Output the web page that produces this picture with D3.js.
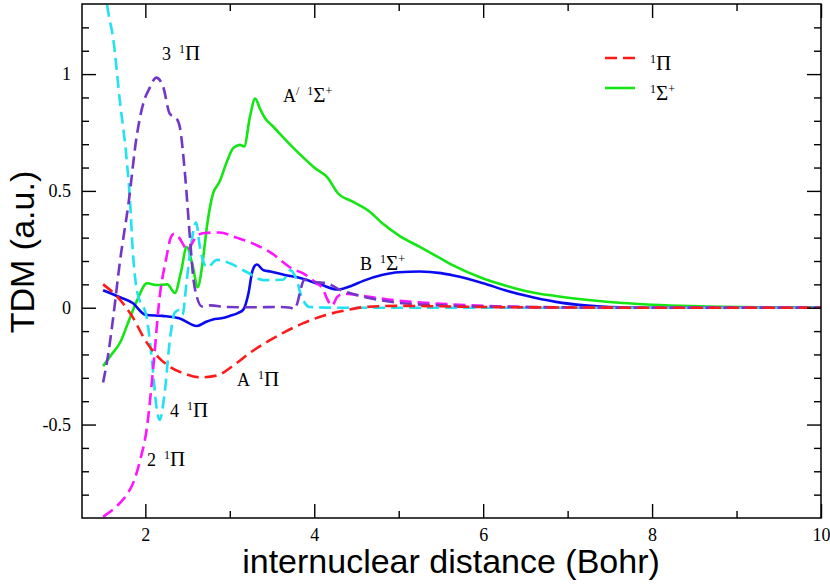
<!DOCTYPE html>
<html>
<head>
<meta charset="utf-8">
<script src="https://cdn.jsdelivr.net/npm/d3@7"></script>
<style>
  body { margin: 0; background: #fff; }
  svg { display: block; }
</style>
</head>
<body>
<svg id="graph" width="830" height="584"></svg>
<script>
// tick values
var xMajor = [2, 4, 6, 8, 10],
    xMinor = [3, 5, 7, 9],
    yMajor = [-0.5, 0, 0.5, 1],
    yMinor = [-0.8, -0.7, -0.6, -0.4, -0.3, -0.2, -0.1, 0.1, 0.2, 0.3, 0.4, 0.6, 0.7, 0.8, 0.9, 1.1, 1.2];

// [R (bohr), TDM (a.u.)]
var aPi = [[1.5,0.1],[1.66,0.05],[1.85,-0.04],[2.0,-0.14],[2.15,-0.21],[2.3,-0.255],[2.45,-0.28],[2.65,-0.298],
    [2.85,-0.29],[3.05,-0.245],[3.25,-0.19],[3.47,-0.14],[3.67,-0.1],[3.87,-0.066],[4.1,-0.035],[4.39,-0.01],
    [4.6,0.003],[5,0.008],[5.5,0.006],[6,0.003],[7,0.001],[8,0],[10,0]];

var aPrimeSig = [[1.5,-0.25],[1.6,-0.2],[1.7,-0.15],[1.8,-0.06],[1.9,0.03],[2.02,0.105],[2.14,0.097],[2.26,0.1],
    [2.35,0.063],[2.42,0.15],[2.49,0.26],[2.56,0.18],[2.62,0.088],[2.68,0.2],[2.73,0.35],[2.8,0.487],[2.88,0.54],
    [2.96,0.62],[3.04,0.683],[3.12,0.697],[3.17,0.69],[3.24,0.82],[3.3,0.895],[3.36,0.85],[3.42,0.81],[3.5,0.78],
    [3.75,0.685],[4.0,0.6],[4.16,0.556],[4.28,0.49],[4.45,0.455],[4.66,0.41],[4.81,0.36],[5.0,0.31],[5.25,0.26],
    [5.5,0.21],[5.65,0.18],[6.0,0.125],[6.26,0.095],[6.5,0.072],[6.86,0.05],[7.25,0.033],[7.65,0.02],[8.0,0.013],
    [8.46,0.007],[9.26,0.002],[10,0.001]];

var bSig = [[1.5,0.075],[1.7,0.045],[1.85,0.02],[2.0,-0.03],[2.2,-0.035],[2.4,-0.045],[2.61,-0.078],[2.72,-0.06],
    [2.8,-0.05],[2.9,-0.045],[3.0,-0.035],[3.1,-0.022],[3.16,-0.008],[3.22,0.06],[3.27,0.16],[3.32,0.185],[3.4,0.16],
    [3.48,0.155],[3.65,0.14],[3.8,0.13],[4.07,0.1],[4.28,0.078],[4.45,0.095],[4.58,0.115],[4.8,0.14],[5.0,0.152],
    [5.25,0.155],[5.5,0.148],[5.65,0.138],[6.0,0.105],[6.26,0.075],[6.5,0.052],[6.86,0.025],[7.2,0.01],[7.5,0.003],
    [8,0],[10,0]];

var pi3 = [[1.5,-0.32],[1.56,-0.2],[1.62,-0.04],[1.7,0.2],[1.8,0.445],[1.9,0.74],[1.98,0.88],[2.05,0.94],[2.13,0.985],
    [2.21,0.947],[2.29,0.83],[2.37,0.81],[2.41,0.77],[2.47,0.57],[2.53,0.29],[2.57,0.12],[2.61,0.047],[2.67,0.005],
    [2.77,0.01],[2.97,0.003],[3.3,0.002],[3.6,0.003],[3.72,0.0],[3.76,-0.005],[3.8,0.02],[3.84,0.08],[3.88,0.12],
    [4.0,0.11],[4.15,0.105],[4.27,0.083],[4.58,0.047],[4.98,0.022],[5.5,0.01],[6,0.005],[7,0.002],[8,0],[10,0]];

var pi2 = [[1.5,-0.895],[1.66,-0.85],[1.78,-0.8],[1.85,-0.755],[1.94,-0.65],[2.02,-0.51],[2.09,-0.27],[2.17,0.047],
    [2.25,0.216],[2.3,0.3],[2.34,0.317],[2.4,0.3],[2.45,0.27],[2.5,0.245],[2.56,0.28],[2.62,0.31],[2.7,0.32],
    [2.88,0.322],[3.08,0.3],[3.24,0.28],[3.48,0.237],[3.75,0.165],[3.87,0.147],[4.03,0.104],[4.1,0.083],[4.15,0.04],
    [4.21,0.008],[4.27,0.045],[4.35,0.06],[4.58,0.05],[5,0.03],[5.5,0.017],[6,0.008],[6.5,0.003],[7,0.001],[8,0],[10,0]];

var pi4 = [[1.5,1.45],[1.55,1.29],[1.62,1.15],[1.7,0.88],[1.78,0.63],[1.82,0.45],[1.85,0.25],[1.9,0.075],[2.02,-0.05],
    [2.09,-0.27],[2.13,-0.42],[2.17,-0.48],[2.23,-0.36],[2.29,-0.14],[2.35,-0.02],[2.4,-0.01],[2.44,-0.03],[2.49,0.117],
    [2.55,0.29],[2.6,0.365],[2.65,0.25],[2.73,0.173],[2.85,0.205],[3.0,0.19],[3.2,0.153],[3.4,0.118],[3.63,0.12],
    [3.72,0.16],[3.79,0.12],[3.85,0.047],[3.95,0.003],[4.3,0],[10,0]];

var svg = d3.select("#graph"),
    plotL = 82, plotR = 821, plotT = 4, plotB = 518;

var x = d3.scaleLinear().domain([1.25, 10]).range([plotL, plotR]),
    y = d3.scaleLinear().domain([-0.9, 1.3]).range([plotB, plotT]);

// clip for curves
svg.append("clipPath").attr("id", "plot-clip")
    .append("rect")
    .attr("x", plotL).attr("y", plotT)
    .attr("width", plotR - plotL).attr("height", plotB - plotT);

var line = d3.line()
    .x(d => x(d[0]))
    .y(d => y(d[1]))
    .curve(d3.curveMonotoneX);

var curves = [
    {data: aPrimeSig, color: "#14e614", dash: null},
    {data: bSig, color: "#0a0af0", dash: null},
    {data: pi4, color: "#22e2f2", dash: "12,6"},
    {data: pi2, color: "#ff14ff", dash: "12,6"},
    {data: pi3, color: "#7236c9", dash: "12,6"},
    {data: aPi, color: "#ff1a1a", dash: "12,6"}
];

var g = svg.append("g").attr("clip-path", "url(#plot-clip)");
curves.forEach(function (c) {
    g.append("path")
        .datum(c.data)
        .attr("fill", "none")
        .attr("stroke", c.color)
        .attr("stroke-width", 2.6)
        .attr("stroke-dasharray", c.dash)
        .attr("d", line);
});

// axes, ticks pointing inward on all four sides
function styleAxis(sel) {
    sel.select(".domain").remove();
    sel.selectAll(".tick line").attr("stroke", "#000").attr("stroke-width", 1.4);
    sel.selectAll(".tick text")
        .attr("fill", "#000")
        .style("font-family", "'Liberation Serif', 'Times New Roman', serif")
        .style("font-size", "18px");
}

var fmt = function (d) { return String(d); };

svg.append("g").attr("transform", "translate(0," + plotB + ")")
    .call(d3.axisBottom(x).tickValues(xMajor).tickSizeInner(-14).tickSizeOuter(0).tickPadding(10).tickFormat(fmt))
    .call(styleAxis);
svg.append("g").attr("transform", "translate(0," + plotB + ")")
    .call(d3.axisBottom(x).tickValues(xMinor).tickSizeInner(-7).tickSizeOuter(0).tickFormat(""))
    .call(styleAxis);
svg.append("g").attr("transform", "translate(0," + plotT + ")")
    .call(d3.axisTop(x).tickValues(xMajor).tickSizeInner(-14).tickSizeOuter(0).tickFormat(""))
    .call(styleAxis);
svg.append("g").attr("transform", "translate(0," + plotT + ")")
    .call(d3.axisTop(x).tickValues(xMinor).tickSizeInner(-7).tickSizeOuter(0).tickFormat(""))
    .call(styleAxis);

svg.append("g").attr("transform", "translate(" + plotL + ",0)")
    .call(d3.axisLeft(y).tickValues(yMajor).tickSizeInner(-14).tickSizeOuter(0).tickPadding(11).tickFormat(fmt))
    .call(styleAxis);
svg.append("g").attr("transform", "translate(" + plotL + ",0)")
    .call(d3.axisLeft(y).tickValues(yMinor).tickSizeInner(-7).tickSizeOuter(0).tickFormat(""))
    .call(styleAxis);
svg.append("g").attr("transform", "translate(" + plotR + ",0)")
    .call(d3.axisRight(y).tickValues(yMajor).tickSizeInner(-14).tickSizeOuter(0).tickFormat(""))
    .call(styleAxis);
svg.append("g").attr("transform", "translate(" + plotR + ",0)")
    .call(d3.axisRight(y).tickValues(yMinor).tickSizeInner(-7).tickSizeOuter(0).tickFormat(""))
    .call(styleAxis);

// frame
svg.append("rect")
    .attr("x", plotL).attr("y", plotT)
    .attr("width", plotR - plotL).attr("height", plotB - plotT)
    .attr("fill", "none").attr("stroke", "#000").attr("stroke-width", 1.5);

// axis titles
svg.append("text")
    .attr("x", 451).attr("y", 573)
    .attr("text-anchor", "middle")
    .style("font-family", "'Liberation Sans', Arial, sans-serif")
    .style("font-size", "34px")
    .text("internuclear distance (Bohr)");

svg.append("text")
    .attr("transform", "translate(34,252) rotate(-90)")
    .attr("text-anchor", "middle")
    .style("font-family", "'Liberation Sans', Arial, sans-serif")
    .style("font-size", "34px")
    .text("TDM (a.u.)");

// state labels: parts are [text, isSuperscript, extra gap before]
function stateLabel(px, py, parts) {
    var t = svg.append("text")
        .attr("x", px).attr("y", py)
        .style("font-family", "'Liberation Serif', 'Times New Roman', serif")
        .style("font-size", "18px");
    var up = false;
    parts.forEach(function (p) {
        var s = t.append("tspan").text(p[0]);
        if (p[2]) s.attr("dx", p[2]);
        if (p[1] && !up) { s.attr("dy", -7).style("font-size", "12px"); up = true; }
        else if (p[1]) { s.style("font-size", "12px"); }
        else {
            if (up) { s.attr("dy", 7); up = false; }
            if (/[ΠΣ]/.test(p[0])) s.style("font-size", "21px");
        }
    });
    return t;
}

stateLabel(162, 60, [["3", 0], ["1", 1, 8], ["Π", 0]]);
stateLabel(283, 102, [["A", 0], ["/", 1], ["1", 1, 8], ["Σ", 0], ["+", 1]]);
stateLabel(360, 270, [["B", 0], ["1", 1, 8], ["Σ", 0], ["+", 1]]);
stateLabel(237, 386, [["A", 0], ["1", 1, 8], ["Π", 0]]);
stateLabel(170, 417, [["4", 0], ["1", 1, 8], ["Π", 0]]);
stateLabel(147, 466, [["2", 0], ["1", 1, 8], ["Π", 0]]);

// legend
svg.append("line").attr("x1", 605).attr("x2", 635).attr("y1", 58).attr("y2", 58)
    .attr("stroke", "#ff1a1a").attr("stroke-width", 2.6).attr("stroke-dasharray", "12,6");
svg.append("line").attr("x1", 605).attr("x2", 635).attr("y1", 88).attr("y2", 88)
    .attr("stroke", "#14e614").attr("stroke-width", 2.6);
stateLabel(650, 70, [["1", 1], ["Π", 0]]);
stateLabel(650, 100, [["1", 1], ["Σ", 0], ["+", 1]]);
</script>
</body>
</html>
